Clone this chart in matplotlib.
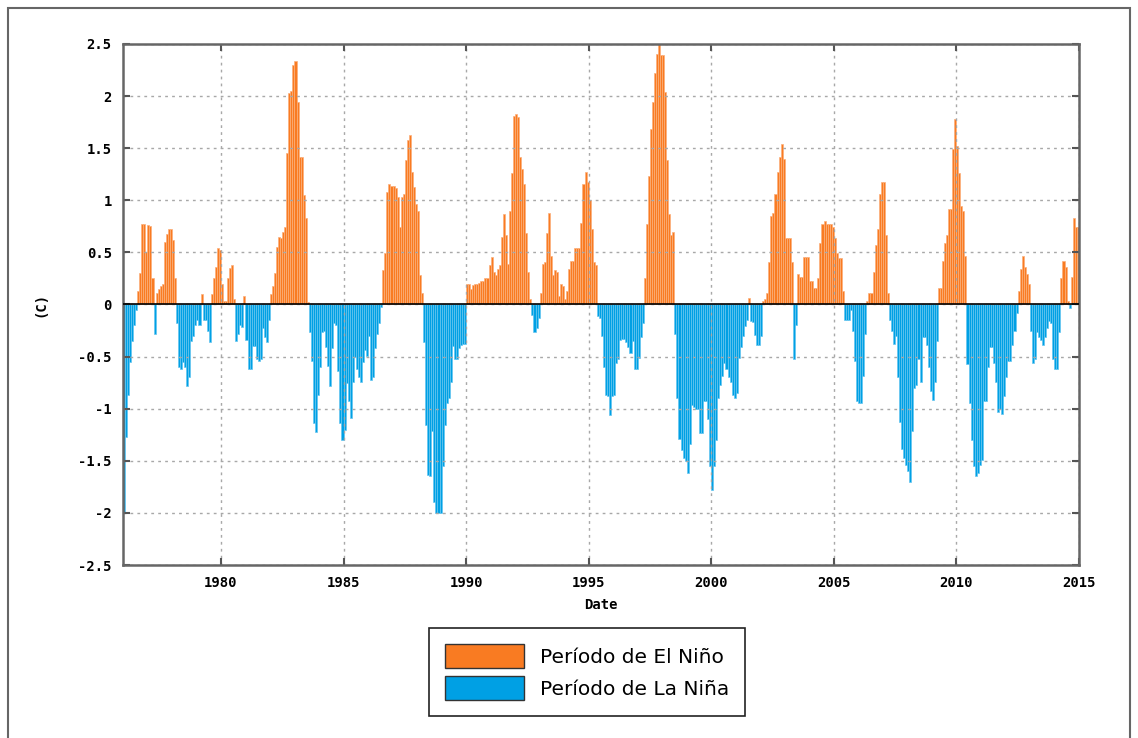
import numpy as np
import matplotlib
matplotlib.use('Agg')
import matplotlib.pyplot as plt
from matplotlib.patches import Patch, Rectangle

# monthly anomaly (C), Jan 1976 .. Dec 2014
start_year = 1976
anomaly = [
    -2.0, -1.27, -0.87, -0.55, -0.35, -0.2, -0.05, 0.13, 0.3, 0.77, 0.77, 0.5,      # 1976
    0.76, 0.75, 0.25, -0.28, 0.11, 0.15, 0.18, 0.2, 0.6, 0.68, 0.72, 0.72,          # 1977
    0.62, 0.25, -0.18, -0.6, -0.62, -0.55, -0.6, -0.78, -0.7, -0.35, -0.3, -0.2,    # 1978
    -0.15, -0.2, 0.1, -0.15, -0.15, -0.25, -0.36, 0.1, 0.25, 0.36, 0.54, 0.52,      # 1979
    0.2, 0.03, 0.03, 0.25, 0.35, 0.38, 0.05, -0.35, -0.28, -0.2, -0.22, 0.08,       # 1980
    -0.34, -0.62, -0.62, -0.4, -0.4, -0.52, -0.54, -0.52, -0.23, -0.31, -0.36, -0.15,  # 1981
    0.1, 0.18, 0.3, 0.55, 0.65, 0.64, 0.7, 0.74, 1.45, 2.03, 2.05, 2.3,             # 1982
    2.34, 1.94, 1.42, 1.42, 1.05, 0.83, 0.02, -0.26, -0.54, -1.14, -1.22, -0.87,    # 1983
    -0.6, -0.26, -0.25, -0.41, -0.59, -0.78, -0.42, -0.18, -0.2, -0.64, -1.14, -1.3,  # 1984
    -1.2, -0.75, -0.93, -1.09, -0.74, -0.5, -0.62, -0.7, -0.74, -0.55, -0.44, -0.49,  # 1985
    -0.3, -0.72, -0.7, -0.42, -0.28, -0.18, -0.02, 0.33, 0.49, 1.08, 1.16, 1.14,    # 1986
    1.14, 1.12, 1.03, 0.74, 1.03, 1.06, 1.39, 1.58, 1.63, 1.27, 1.13, 0.96,         # 1987
    0.9, 0.28, 0.11, -0.36, -1.16, -1.64, -1.65, -1.21, -1.9, -2.0, -2.0, -2.0,     # 1988
    -1.55, -1.16, -0.95, -0.9, -0.74, -0.4, -0.52, -0.52, -0.42, -0.39, -0.38, -0.38,  # 1989
    0.2, 0.2, 0.15, 0.19, 0.2, 0.2, 0.21, 0.23, 0.23, 0.25, 0.25, 0.38,             # 1990
    0.46, 0.31, 0.28, 0.34, 0.38, 0.65, 0.87, 0.67, 0.39, 0.9, 1.26, 1.81,          # 1991
    1.83, 1.8, 1.42, 1.3, 1.16, 0.69, 0.31, 0.05, -0.1, -0.26, -0.23, -0.13,        # 1992
    0.11, 0.39, 0.41, 0.69, 0.88, 0.47, 0.28, 0.33, 0.31, 0.08, 0.2, 0.18,          # 1993
    0.05, 0.13, 0.34, 0.42, 0.42, 0.54, 0.54, 0.54, 0.78, 1.16, 1.27, 1.18,         # 1994
    1.0, 0.72, 0.41, 0.38, -0.11, -0.13, -0.3, -0.6, -0.87, -0.88, -1.06, -0.88,    # 1995
    -0.87, -0.56, -0.52, -0.34, -0.33, -0.33, -0.36, -0.41, -0.47, -0.35, -0.62, -0.62,  # 1996
    -0.51, -0.31, -0.18, 0.25, 0.77, 1.23, 1.68, 1.94, 2.22, 2.4, 2.5, 2.39,        # 1997
    2.39, 2.04, 1.39, 0.87, 0.67, 0.7, -0.28, -0.9, -1.29, -1.4, -1.47, -1.5,       # 1998
    -1.62, -1.34, -0.96, -0.98, -1.0, -1.0, -1.23, -1.23, -0.93, -0.93, -1.1, -1.55,  # 1999
    -1.78, -1.55, -1.3, -0.9, -0.77, -0.69, -0.56, -0.62, -0.7, -0.74, -0.87, -0.9,   # 2000
    -0.85, -0.51, -0.41, -0.3, -0.21, -0.15, 0.06, -0.16, -0.17, -0.29, -0.39, -0.39,  # 2001
    -0.3, 0.03, 0.05, 0.11, 0.41, 0.85, 0.88, 1.06, 1.27, 1.42, 1.54, 1.4,          # 2002
    0.64, 0.64, 0.64, 0.41, -0.52, -0.2, 0.29, 0.26, 0.26, 0.46, 0.46, 0.46,        # 2003
    0.23, 0.23, 0.16, 0.16, 0.25, 0.59, 0.77, 0.8, 0.77, 0.77, 0.77, 0.74,          # 2004
    0.64, 0.49, 0.45, 0.45, 0.13, -0.15, -0.15, -0.15, -0.05, -0.25, -0.54, -0.93,  # 2005
    -0.95, -0.95, -0.69, -0.28, 0.03, 0.11, 0.11, 0.31, 0.57, 0.72, 1.06, 1.18,     # 2006
    1.18, 0.67, 0.11, -0.15, -0.25, -0.38, -0.3, -0.7, -1.13, -1.39, -1.47, -1.54,  # 2007
    -1.6, -1.7, -1.21, -0.8, -0.77, -0.52, -0.74, -0.31, -0.31, -0.39, -0.6, -0.83,  # 2008
    -0.92, -0.74, -0.35, 0.16, 0.16, 0.42, 0.59, 0.67, 0.92, 0.92, 1.49, 1.78,      # 2009
    1.52, 1.26, 0.95, 0.9, 0.47, -0.57, -0.95, -1.3, -1.55, -1.65, -1.62, -1.54,    # 2010
    -1.49, -0.93, -0.93, -0.6, -0.41, -0.41, -0.56, -0.74, -1.03, -1.0, -1.05, -0.88,  # 2011
    -0.7, -0.54, -0.54, -0.39, -0.25, -0.08, 0.13, 0.34, 0.47, 0.36, 0.29, 0.2,     # 2012
    -0.25, -0.56, -0.52, -0.26, -0.31, -0.34, -0.39, -0.31, -0.23, -0.16, -0.18, -0.52,  # 2013
    -0.62, -0.62, -0.26, 0.25, 0.42, 0.36, 0.03, -0.03, 0.26, 0.83, 0.74, 0.74,     # 2014
]

xticks = list(range(1980, 2016, 5))
yticks = np.arange(-2.5, 2.51, 0.5)
labels = ['Período de El Niño', 'Período de La Niña']

orange = '#F97B22'
orange_edge = '#FBB07C'
blue = '#00A0E4'
blue_edge = '#66C6F0'

vals = np.array(anomaly)
t = start_year + (np.arange(len(vals)) + 0.5) / 12.0
pos = vals >= 0

fig = plt.figure(figsize=(11.38, 7.38), dpi=100)
ax = fig.add_axes([0.108, 0.2344, 0.840, 0.706])

ax.bar(t[pos], vals[pos], width=1/12, color=orange, edgecolor=orange_edge, linewidth=0.5)
ax.bar(t[~pos], vals[~pos], width=1/12, color=blue, edgecolor=blue_edge, linewidth=0.5)
ax.axhline(0, color='black', lw=1.2, zorder=3)

ax.set_xlim(1976, 2015)
ax.set_ylim(-2.5, 2.5)
ax.set_xticks(xticks)
ax.set_xticklabels([str(v) for v in xticks])
ax.set_yticks(yticks)
ax.set_yticklabels(['%g' % v for v in yticks])
ax.grid(True, linestyle=(0, (2, 3)), color='#a8a8a8', lw=1.0)
ax.tick_params(direction='in', top=True, right=True, length=5, width=1.5,
               color='#555555', pad=8)
for lab in ax.get_xticklabels() + ax.get_yticklabels():
    lab.set_family('DejaVu Sans Mono')
    lab.set_fontweight('bold')
    lab.set_fontsize(10)
for s in ax.spines.values():
    s.set_color('#666666')
    s.set_linewidth(1.8)

ax.set_xlabel('Date', family='DejaVu Sans Mono', fontweight='bold', fontsize=10, labelpad=6)
ax.set_ylabel('(C)', family='DejaVu Sans Mono', fontweight='bold', fontsize=10, labelpad=22)

handles = [Patch(facecolor=orange, edgecolor='#333333', lw=1),
           Patch(facecolor=blue, edgecolor='#333333', lw=1)]
leg = fig.legend(handles, labels, loc='center', bbox_to_anchor=(0.516, 0.089),
                 fontsize=14.5, handlelength=3.9, handleheight=1.45,
                 handletextpad=0.8, labelspacing=0.4, borderpad=0.8,
                 borderaxespad=0, fancybox=False, edgecolor='#222222', framealpha=1)
leg.get_frame().set_linewidth(1.2)

# outer border of the picture
fig.patches.append(Rectangle((8/1138, -0.02), 1122/1138, 1.02 - 8/738,
                             transform=fig.transFigure, fill=False,
                             edgecolor='#666666', lw=1.5))

fig.savefig('out.png', dpi=100)
